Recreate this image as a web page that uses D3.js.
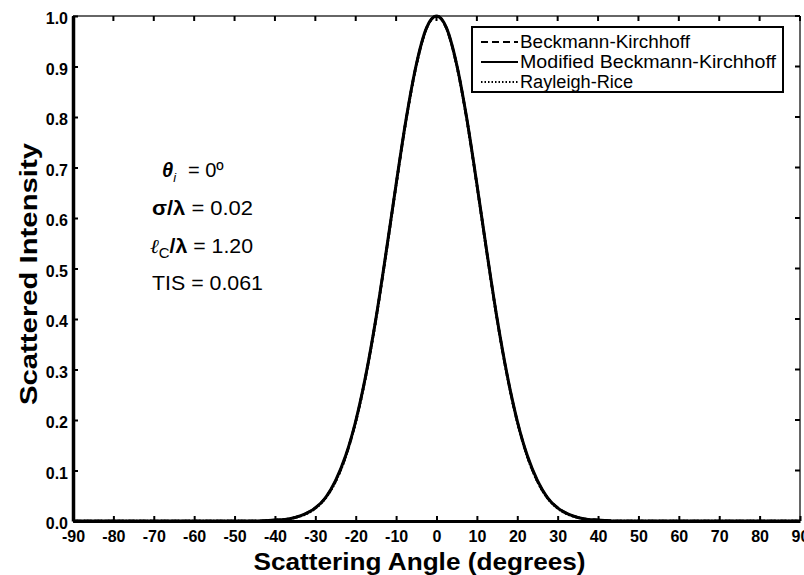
<!DOCTYPE html>
<html>
<head>
<meta charset="utf-8">
<script src="https://cdn.jsdelivr.net/npm/d3@7"></script>
<style>
  body { margin: 0; background: #ffffff; }
  svg { display: block; font-family: "Liberation Sans", Arial, sans-serif; }
</style>
</head>
<body>
<script>
// scattering angle (degrees) at which the curves were read
var angles = [-90, -60, -45, -40, -37.5, -35, -32.5, -30, -27.5, -25, -22.5, -20, -17.5, -15, -12.5, -10, -7.5, -5, -2.5,
              0, 2.5, 5, 7.5, 10, 12.5, 15, 17.5, 20, 22.5, 25, 27.5, 30, 32.5, 35, 37.5, 40, 45, 60, 90];

// scattered intensity
var beckmannKirchhoff = [0, 0, 0, 0.002, 0.003, 0.007, 0.014, 0.026, 0.046, 0.079, 0.128, 0.197, 0.288, 0.400, 0.530, 0.666, 0.796, 0.903, 0.975,
                         1.0, 0.975, 0.903, 0.796, 0.666, 0.530, 0.400, 0.288, 0.197, 0.128, 0.079, 0.046, 0.026, 0.014, 0.007, 0.003, 0.002, 0, 0, 0];
var modifiedBK = [0, 0, 0, 0.002, 0.003, 0.007, 0.014, 0.026, 0.046, 0.080, 0.129, 0.198, 0.289, 0.401, 0.531, 0.667, 0.797, 0.904, 0.976,
                  1.0, 0.976, 0.904, 0.797, 0.667, 0.531, 0.401, 0.289, 0.198, 0.129, 0.080, 0.046, 0.026, 0.014, 0.007, 0.003, 0.002, 0, 0, 0];
var rayleighRice = [0, 0, 0, 0.001, 0.003, 0.007, 0.013, 0.025, 0.045, 0.078, 0.127, 0.196, 0.287, 0.399, 0.529, 0.665, 0.795, 0.902, 0.975,
                    1.0, 0.975, 0.902, 0.795, 0.665, 0.529, 0.399, 0.287, 0.196, 0.127, 0.078, 0.045, 0.025, 0.013, 0.007, 0.003, 0.001, 0, 0, 0];

var seriesNames = ["Beckmann-Kirchhoff", "Modified Beckmann-Kirchhoff", "Rayleigh-Rice"];
var seriesDash = ["7,4", null, "1.5,2"];

var xTicks = d3.range(-90, 91, 10);
var yTicks = d3.range(0, 1.01, 0.1);

var WIDTH = 804, HEIGHT = 575;
var margin = {left: 73, right: 4, top: 16, bottom: 54};

var svg = d3.select("body").append("svg")
            .attr("width", WIDTH)
            .attr("height", HEIGHT);

var plotW = WIDTH - margin.left - margin.right;
var plotH = HEIGHT - margin.top - margin.bottom;

var x = d3.scaleLinear().domain([-90, 90]).range([margin.left, margin.left + plotW]);
var y = d3.scaleLinear().domain([0, 1]).range([margin.top + plotH, margin.top]);

// top and right frame
svg.append("line").attr("x1", x(-90)).attr("x2", x(90)).attr("y1", y(1)).attr("y2", y(1))
   .style("stroke", "#333").style("stroke-width", 1.5);
svg.append("line").attr("x1", x(90)).attr("x2", x(90)).attr("y1", y(1)).attr("y2", y(0))
   .style("stroke", "#333").style("stroke-width", 1.5);

// bottom axis
var xAxis = d3.axisBottom(x).tickValues(xTicks).tickSizeInner(-5).tickSizeOuter(0).tickPadding(10)
              .tickFormat(d => String(d));
var gx = svg.append("g").attr("transform", "translate(0," + y(0) + ")").call(xAxis);
gx.select(".domain").style("stroke", "#000").style("stroke-width", 3);
gx.selectAll(".tick line").style("stroke-width", 2);
gx.selectAll(".tick text").style("font-size", "16px").style("font-weight", "bold")
  .style("font-family", "Liberation Sans, Arial, sans-serif");

// left axis
var yAxis = d3.axisLeft(y).tickValues(yTicks).tickSizeInner(-5).tickSizeOuter(0).tickPadding(5)
              .tickFormat(d3.format(".1f"));
var gy = svg.append("g").attr("transform", "translate(" + x(-90) + ",0)").call(yAxis);
gy.select(".domain").style("stroke", "#000").style("stroke-width", 3.5);
gy.selectAll(".tick line").style("stroke-width", 2);
gy.selectAll(".tick text").style("font-size", "16px").style("font-weight", "bold")
  .attr("dy", "0.47em")
  .style("font-family", "Liberation Sans, Arial, sans-serif");

// top and right ticks
svg.append("g").selectAll("line").data(xTicks).join("line")
   .attr("x1", d => x(d)).attr("x2", d => x(d))
   .attr("y1", y(1)).attr("y2", y(1) + 5)
   .style("stroke", "#000").style("stroke-width", 2);
svg.append("g").selectAll("line").data(yTicks).join("line")
   .attr("x1", x(90)).attr("x2", x(90) - 5)
   .attr("y1", d => y(d)).attr("y2", d => y(d))
   .style("stroke", "#000").style("stroke-width", 2);

// axis titles
svg.append("text")
   .attr("x", x(0) - 17).attr("y", 570)
   .attr("text-anchor", "middle")
   .attr("textLength", 332).attr("lengthAdjust", "spacingAndGlyphs")
   .style("font-size", "24px").style("font-weight", "bold")
   .text("Scattering Angle (degrees)");

svg.append("text")
   .attr("transform", "translate(37," + 274 + ") rotate(-90)")
   .attr("text-anchor", "middle")
   .attr("textLength", 262).attr("lengthAdjust", "spacingAndGlyphs")
   .style("font-size", "24px").style("font-weight", "bold")
   .text("Scattered Intensity");

// curves
var allSeries = [beckmannKirchhoff, modifiedBK, rayleighRice];
var line = d3.line()
             .x(d => x(d[0]))
             .y(d => y(d[1]))
             .curve(d3.curveMonotoneX);

allSeries.forEach(function(vals, i)
{
  svg.append("path")
     .datum(angles.map((a, j) => [a, vals[j]]))
     .attr("d", line)
     .style("fill", "none")
     .style("stroke", "#000")
     .style("stroke-width", i == 1 ? 3 : 2.6)
     .style("stroke-dasharray", seriesDash[i]);
});

// legend
var legend = svg.append("g").attr("transform", "translate(472,27)");
legend.append("rect")
      .attr("width", 311).attr("height", 65)
      .style("fill", "#fff").style("stroke", "#000").style("stroke-width", 2);
var legendWidths = [170, 256, 113];
seriesNames.forEach(function(name, i)
{
  var rowY = 15 + i * 20;
  legend.append("line")
        .attr("x1", 9).attr("x2", 46).attr("y1", rowY).attr("y2", rowY)
        .style("stroke", "#000").style("stroke-width", 1.8)
        .style("stroke-dasharray", seriesDash[i]);
  legend.append("text")
        .attr("x", 48).attr("y", rowY + 6)
        .attr("textLength", legendWidths[i]).attr("lengthAdjust", "spacingAndGlyphs")
        .style("font-size", "18px")
        .text(name);
});

// annotation
var note = svg.append("g").style("font-size", "20px");
var t1 = note.append("text").attr("x", 162).attr("y", 177);
t1.append("tspan").style("font-weight", "bold").style("font-style", "italic").text("θ");
t1.append("tspan").attr("dy", 5).style("font-size", "13px").style("font-style", "italic").text("i");
t1.append("tspan").attr("dy", -5).attr("x", 188).text("= 0º");

var t2 = note.append("text").attr("x", 152).attr("y", 215)
             .attr("textLength", 101).attr("lengthAdjust", "spacingAndGlyphs");
t2.append("tspan").style("font-weight", "bold").text("σ/λ");
t2.append("tspan").text(" = 0.02");

var t3 = note.append("text").attr("x", 150).attr("y", 253)
             .attr("textLength", 103).attr("lengthAdjust", "spacingAndGlyphs");
t3.append("tspan").style("font-style", "italic").style("font-family", "DejaVu Serif, serif").text("ℓ");
t3.append("tspan").attr("dy", 5).style("font-size", "14px").text("C");
t3.append("tspan").attr("dy", -5).style("font-weight", "bold").text("/λ");
t3.append("tspan").text(" = 1.20");

note.append("text").attr("x", 152).attr("y", 290)
    .attr("textLength", 111).attr("lengthAdjust", "spacingAndGlyphs")
    .text("TIS = 0.061");
</script>
</body>
</html>
